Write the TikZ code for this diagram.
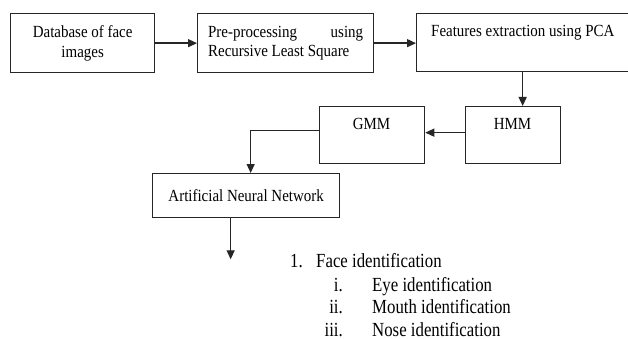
\documentclass[tikz,border=0pt]{standalone}
\usepackage{fontspec}
\setmainfont{Liberation Serif}[FakeStretch=0.88]
\newfontfamily\listfont{Liberation Serif}[FakeStretch=0.84]
\usetikzlibrary{arrows.meta}
\begin{document}
\begin{tikzpicture}[x=1pt,y=-1pt,
 box/.style={draw=black!85, line width=1.3pt, inner sep=0pt, anchor=north west},
 arr/.style={draw=black!85, line width=1.3pt, -{Triangle[length=9pt,width=8pt]}},
 txt/.style={font=\fontsize{17}{19.5}\selectfont, inner sep=0pt},
 lst/.style={font=\listfont\fontsize{20}{23}\selectfont, inner sep=0pt}]
\useasboundingbox[fill=white] (0,0) rectangle (628,339);
% boxes
\node[box, txt, minimum width=144pt, minimum height=59pt, align=center] (db) at (10,13) {Database of face\\images};
\node[box, txt, minimum width=176pt, minimum height=59pt, align=left] (pre) at (197,13) {\makebox[155pt][l]{Pre-processing\hfill using}\\Recursive Least Square};
\node[box, minimum width=214pt, minimum height=58pt] (pca) at (416,13) {};
\node[txt, anchor=base west] (pcat) at (431,36.7) {Features extraction using PCA};
\node[box, minimum width=95pt, minimum height=57pt] (hmm) at (465,106) {};
\node[txt, anchor=base] (hmmt) at (512.5,130) {HMM};
\node[box, minimum width=105pt, minimum height=57pt] (gmm) at (319,106) {};
\node[txt, anchor=base] (gmmt) at (371.5,130) {GMM};
\node[box, txt, minimum width=187pt, minimum height=44pt] (ann) at (152,173) {Artificial Neural Network};
% connectors
\draw[arr] (db.east) -- (pre.west);
\draw[arr] (pre.east) -- (pca.west |- pre.east);
\draw[arr] ([xshift=9.5pt]hmm.north |- pca.south) -- ([xshift=9.5pt]hmm.north);
\draw[arr] ([yshift=2.5pt]hmm.west) -- ([yshift=2.5pt]gmm.east);
\draw[arr] ([yshift=4.5pt]gmm.west) -| ([xshift=4.5pt]ann.north);
\coordinate (end) at ([xshift=-15.5pt,yshift=-41pt]ann.south);
\draw[arr] ([xshift=-15.5pt]ann.south) -- (end);
% list
\node[lst, anchor=base west] (l1n) at (290,267) {1.};
\node[lst, anchor=base west] (l1) at (316,267) {Face identification};
\node[lst, anchor=base east] (l2n) at (343,291) {i.};
\node[lst, anchor=base west] (l2) at (372,291) {Eye identification};
\node[lst, anchor=base east] (l3n) at (343,313) {ii.};
\node[lst, anchor=base west] (l3) at (372,313) {Mouth identification};
\node[lst, anchor=base east] (l4n) at (343,336) {iii.};
\node[lst, anchor=base west] (l4) at (372,336) {Nose identification};
\end{tikzpicture}
\end{document}
